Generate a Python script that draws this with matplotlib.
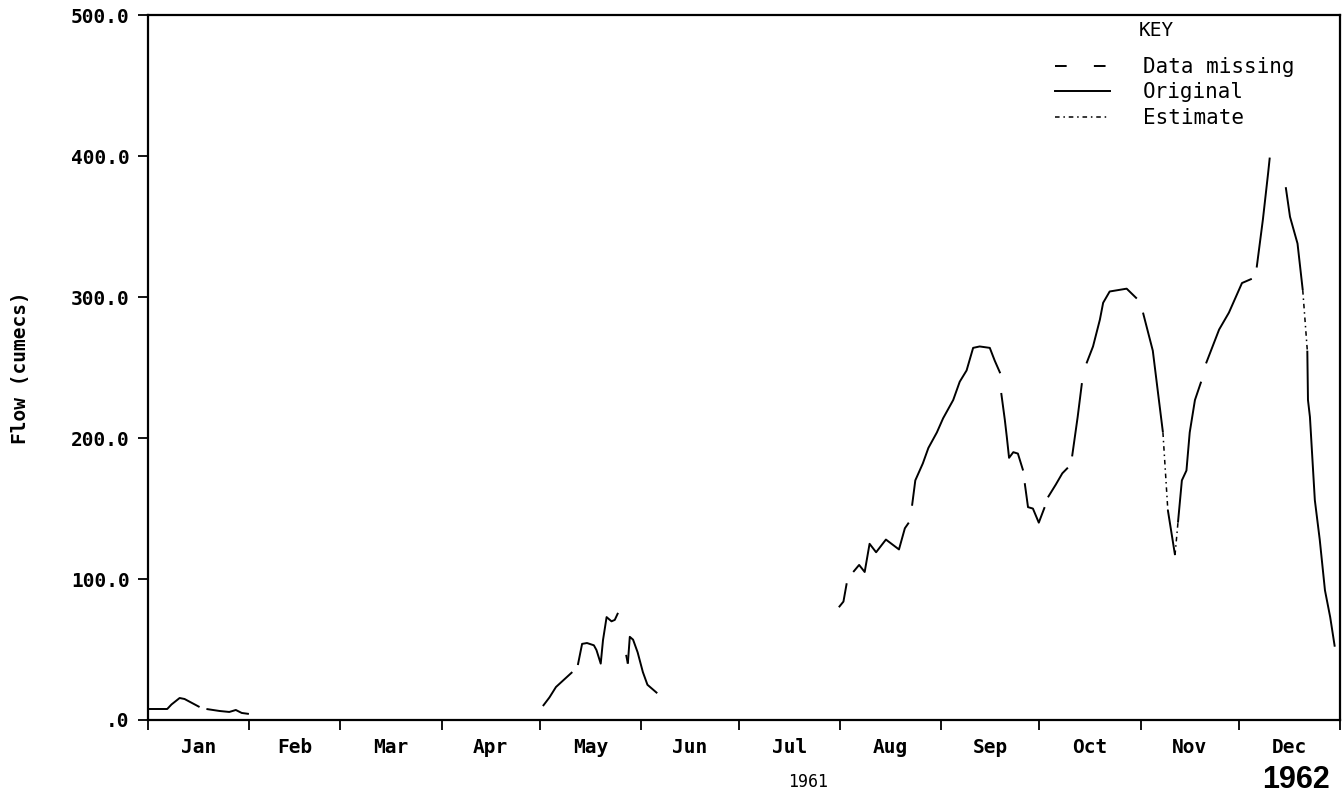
import numpy as np
import matplotlib
matplotlib.use('Agg')
import matplotlib.pyplot as plt
from matplotlib.lines import Line2D

nan = np.nan

# day of year (0 = 1 Jan) and flow in cumecs, NaN = gap in the original record
jan_day = [0, 6, 7.3, 9.8, 11.3, 15.9, nan, 18, 22, 25, 27, 28.8, 31]
jan_flow = [7.8, 7.8, 11, 15.6, 14.9, 9.2, nan, 7.8, 6.4, 5.7, 7.1, 5, 4.3]

may_day = [121, 123, 125, 130, nan, 131.7, 133, 134.5, 136.6, 137.4, 138.7, 139.4,
           140.5, 142, 143, 144, nan, 147, 147.6, 148.6, 150, 151.6, 153, 156]
may_flow = [9.9, 16, 23.4, 34, nan, 39, 54, 54.6, 53, 49.6, 40, 56.7,
            73, 70, 71, 76, nan, 40, 59, 57, 48, 34, 25, 19]

late_day = [211.6, 213, 214, nan, 216, 217.8, 219.5, 221, 223, 226, 230, 231.8, 233, nan,
            234, 235, 237.3, 239, 241.6, 243.5, 246.6, 248.6, 250.7, 252.7, 254.7, 257.8,
            259.3, 261, nan, 261.3, 262.4, 263, 263.7, 265, 266.4, 268, nan,
            268.5, 269.5, 271, 272.8, 274.6, nan, 275.6, 278, 280, 281.7, nan,
            283, 284.7, 286, nan, 287.4, 289.4, 291.5, 292.5, 294.5, 299.7, 302.8, nan,
            304.7, 307.7, 309.3, 310.8, nan, 312.3, 314.5, nan,
            315.4, 316.6, 318, 319, 320.6, 322.5, nan, 324, 328, 331, 335, 338, nan,
            339.5, 341.4, 343, 343.5, nan, 348.4, 349.7, 352, 353.6, nan,
            355, 355.2, 355.8, 357.3, 358.8, 360.4, 362, 363.4]
late_flow = [80, 84, 97, nan, 105, 110, 105, 125, 119, 128, 121, 136, 140, nan,
             152, 170, 182, 193, 204, 214, 227, 240, 248, 264, 265, 264,
             255, 246, nan, 232, 213, 201, 186, 190, 189, 177, nan,
             168, 151, 150, 140, 151, nan, 158, 167, 175, 179, nan,
             187, 215, 239, nan, 253, 265, 284, 296, 304, 306, 299, nan,
             289, 262, 232, 204, nan, 149, 117, nan,
             140, 170, 177, 204, 227, 240, nan, 253, 277, 289, 310, 313, nan,
             321, 355, 388, 399, nan, 378, 357, 338, 305, nan,
             262, 227, 215, 156, 128, 92, 73, 52]

# estimated stretches (dash-dot)
est_day = [310.8, 312.3, nan, 314.5, 315.4, nan, 353.6, 355]
est_flow = [204, 149, nan, 117, 140, nan, 305, 262]

month_start = [0, 31, 59, 90, 120, 151, 181, 212, 243, 273, 304, 334, 365]
month_names = ['Jan', 'Feb', 'Mar', 'Apr', 'May', 'Jun', 'Jul', 'Aug', 'Sep', 'Oct', 'Nov', 'Dec']
y_ticks = [0, 100, 200, 300, 400, 500]
y_labels = ['.0', '100.0', '200.0', '300.0', '400.0', '500.0']

mono = 'DejaVu Sans Mono'
lw = 1.4
missing_style = (8, (8, 22))   # gap first so short gaps look empty
est_style = (0, (3, 2.5, 1, 2.5))

fig = plt.figure(figsize=(13.42, 8.05), dpi=100)
ax = fig.add_axes([0.110, 0.1056, 0.8885, 0.8755])

for d, f in [(jan_day, jan_flow), (may_day, may_flow), (late_day, late_flow)]:
    d = np.array(d, dtype=float)
    f = np.array(f, dtype=float)
    ax.plot(d, f, color='black', lw=lw, solid_capstyle='butt')
    # missing data: dashed line across each gap, unless an estimate covers it
    for i in np.where(np.isnan(d))[0]:
        if d[i - 1] in est_day:
            continue
        ax.plot([d[i - 1], d[i + 1]], [f[i - 1], f[i + 1]], color='black',
                lw=lw, linestyle=missing_style)

ax.plot(est_day, est_flow, color='black', lw=1.1, linestyle=est_style)

ax.set_xlim(0, 365)
ax.set_ylim(0, 500)

ax.set_xticks(month_start)
ax.set_xticklabels([])
ax.set_xticks([(a + b) / 2 for a, b in zip(month_start[:-1], month_start[1:])], minor=True)
ax.set_xticklabels(month_names, minor=True, family=mono, fontsize=14, fontweight='bold')
ax.tick_params(axis='x', which='major', direction='out', length=7, width=1.3)
ax.tick_params(axis='x', which='minor', length=0, pad=13)

ax.set_yticks(y_ticks)
ax.set_yticklabels(y_labels, family=mono, fontsize=14, fontweight='bold')
ax.tick_params(axis='y', direction='out', length=7, width=1.3, pad=6)

for s in ax.spines.values():
    s.set_linewidth(1.6)

ax.set_ylabel('Flow (cumecs)', family=mono, fontsize=14, fontweight='bold')
ax.yaxis.set_label_coords(-0.099, 0.5)

fig.text(0.602, 0.018, '1961', family=mono, fontsize=12, ha='center', va='bottom')
fig.text(0.991, 0.012, '1962', family='Liberation Sans', fontsize=22, fontweight='bold',
         ha='right', va='bottom')

ax.text(0.846, 0.979, 'KEY', transform=ax.transAxes, family=mono, fontsize=14,
        ha='center', va='center')
handles = [Line2D([], [], color='black', lw=lw, linestyle=(0, (6, 14))),
           Line2D([], [], color='black', lw=lw),
           Line2D([], [], color='black', lw=1.1, linestyle=est_style)]
ax.legend(handles, ['Data missing', 'Original', 'Estimate'],
          loc='upper left', bbox_to_anchor=(0.761, 0.941), frameon=False,
          prop={'family': mono, 'size': 15}, handlelength=2.65, handletextpad=1.55,
          labelspacing=0.27, borderaxespad=0, borderpad=0)

fig.savefig('out.png', dpi=100)
